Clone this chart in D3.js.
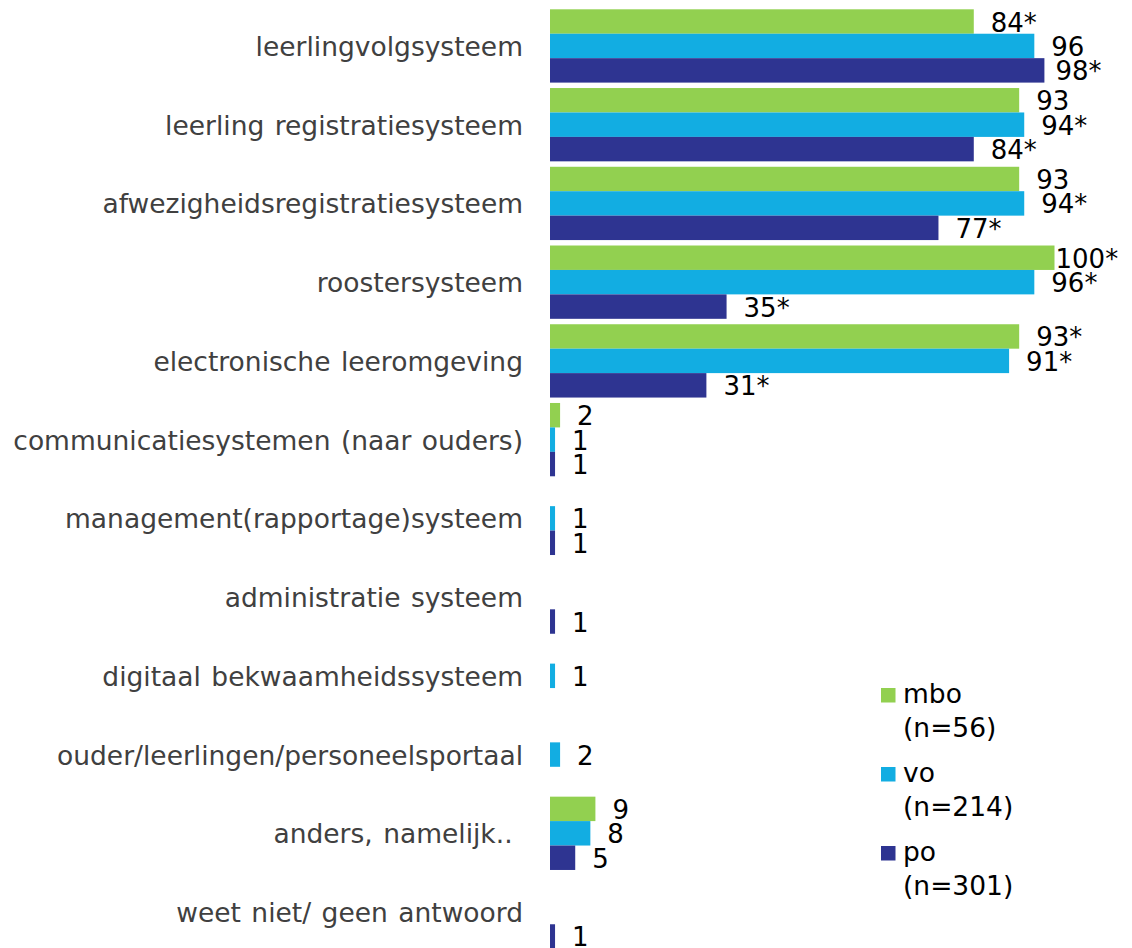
<!DOCTYPE html>
<html>
<head>
<meta charset="utf-8">
<script src="https://cdn.jsdelivr.net/npm/d3@7"></script>
<style>
  html, body { margin: 0; padding: 0; background: #fff; }
  svg { display: block; }
</style>
</head>
<body>
<div id="chart"></div>
<script>
// data (null = no bar)
const categories = [
  "leerlingvolgsysteem",
  "leerling registratiesysteem",
  "afwezigheidsregistratiesysteem",
  "roostersysteem",
  "electronische leeromgeving",
  "communicatiesystemen (naar ouders)",
  "management(rapportage)systeem",
  "administratie systeem",
  "digitaal bekwaamheidssysteem",
  "ouder/leerlingen/personeelsportaal",
  "anders, namelijk.. ",
  "weet niet/ geen antwoord",
];
const series = ["mbo", "vo", "po"];
const seriesN = ["(n=56)", "(n=214)", "(n=301)"];
const mboValues = [84, 93, 93, 100, 93, 2, null, null, null, null, 9, null];
const voValues = [96, 94, 94, 96, 91, 1, 1, null, 1, 2, 8, null];
const poValues = [98, 84, 77, 35, 31, 1, 1, 1, null, null, 5, 1];
const mboSig = [true, false, false, true, true, false, false, false, false, false, false, false];
const voSig = [false, true, true, true, true, false, false, false, false, false, false, false];
const poSig = [true, true, true, true, true, false, false, false, false, false, false, false];

const COLORS = ["#92D050", "#12ADE2", "#2E3491"];
const WIDTH = 1132;
const HEIGHT = 948;
const FONT = "Verdana, 'DejaVu Sans', sans-serif";

const valuesBySeries = [mboValues, voValues, poValues];
const sigBySeries = [mboSig, voSig, poSig];

const svg = d3
  .select("#chart")
  .append("svg")
  .attr("width", WIDTH)
  .attr("height", HEIGHT)
  .style("font-family", FONT);

// scales
const x = d3.scaleLinear().domain([0, 100]).range([550, 1054.5]);
const y = d3
  .scaleBand()
  .domain(categories)
  .range([9.3, 948.7])
  .paddingInner(0.069)
  .paddingOuter(0);
const ySub = d3.scaleBand().domain(series).range([0, y.bandwidth()]);

// flat list of bars
const bars = [];
categories.forEach((c, i) => {
  series.forEach((s, j) => {
    const v = valuesBySeries[j][i];
    if (v === null) return;
    bars.push({ cat: c, series: s, idx: j, value: v, sig: sigBySeries[j][i] });
  });
});

// category labels (aligned to the middle bar)
svg
  .append("g")
  .selectAll("text")
  .data(categories)
  .join("text")
  .attr("x", 523)
  .attr("y", (d) => y(d) + ySub("vo") + ySub.bandwidth() / 2 + 10)
  .attr("text-anchor", "end")
  .style("white-space", "pre")
  .style("word-spacing", "2px")
  .attr("font-size", 26.5)
  .attr("fill", "#404040")
  .text((d) => d);

// bars
svg
  .append("g")
  .selectAll("rect")
  .data(bars)
  .join("rect")
  .attr("x", x(0))
  .attr("y", (d) => y(d.cat) + ySub(d.series))
  .attr("width", (d) => x(d.value) - x(0))
  .attr("height", ySub.bandwidth())
  .attr("fill", (d) => COLORS[d.idx]);

// value labels
svg
  .append("g")
  .selectAll("text")
  .data(bars)
  .join("text")
  .attr("x", (d) => Math.min(x(d.value) + 17, x(100) + 1))
  .attr("y", (d) => y(d.cat) + ySub(d.series) + ySub.bandwidth() / 2 + 10)
  .attr("font-size", 26)
  .attr("fill", "#000")
  .text((d) => d.value + (d.sig ? "*" : ""));

// legend
const legend = svg
  .append("g")
  .selectAll("g")
  .data(series)
  .join("g")
  .attr("transform", (d, i) => `translate(881, ${688 + i * 79})`);
legend
  .append("rect")
  .attr("width", 14.5)
  .attr("height", 14.5)
  .attr("fill", (d, i) => COLORS[i]);
legend
  .append("text")
  .attr("x", 22)
  .attr("y", 15)
  .attr("font-size", 26.5)
  .attr("fill", "#000")
  .text((d) => d);
legend
  .append("text")
  .attr("x", 22)
  .attr("y", 48.5)
  .attr("font-size", 26.5)
  .attr("fill", "#000")
  .text((d, i) => seriesN[i]);
</script>
</body>
</html>
